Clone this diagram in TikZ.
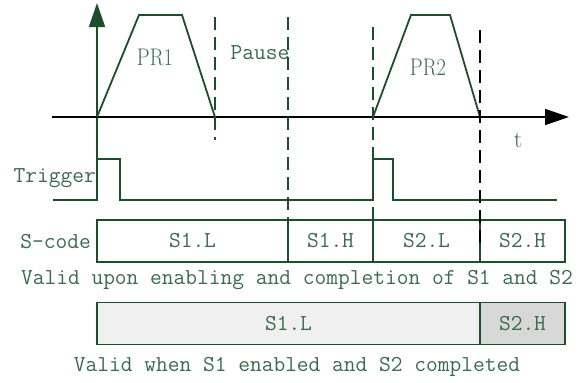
\documentclass[tikz,border=0pt]{standalone}
\usepackage{fontspec}
\usepackage{tikz}
\usetikzlibrary{arrows.meta,positioning}

\definecolor{wire}{RGB}{30,77,43}
\definecolor{lbl}{RGB}{59,107,79}
\definecolor{lightfill}{RGB}{240,240,240}
\definecolor{darkfill}{RGB}{216,216,216}

\begin{document}
\begin{tikzpicture}[
    x=1pt, y=-1pt,
    axis/.style={line width=1.6pt, black},
    wave/.style={line width=1.8pt, wire, line join=miter},
    marker/.style={line width=1.8pt, wire, dash pattern=on 13pt off 7pt},
    cell/.style={draw=wire, line width=1.8pt, minimum height=42pt, inner sep=0pt, outer sep=0pt,
      text=lbl, font=\fontsize{22.8}{24}\ttfamily},
    mono/.style={text=lbl, inner sep=0pt, font=\fontsize{22.8}{24}\ttfamily},
    serif/.style={text=lbl, inner sep=0pt, font=\fontsize{24}{26}\rmfamily},
  ]
    \useasboundingbox (0,0) rectangle (582,383);

    % time axes
    \coordinate (o) at (97,117);
    \coordinate (ytop) at (97,3);
    \coordinate (ybot) at (97,200);
    \coordinate (xl) at (52,117);
    \coordinate (xr) at (569,117);
    \draw[wave] (ybot) -- (o);
    \draw[wave, line width=1.6pt, -{Triangle[length=24pt,width=16pt]}] (o) -- (ytop);
    \draw[axis, -{Triangle[length=24pt,width=16pt]}] (xl) -- (xr);
    \node[serif] (t) at (518,140) {t};

    % PR1 and PR2 profiles
    \draw[wave] (o) -- (139,15) -- (182,15) -- (215,117);
    \node[serif, xscale=0.85, transform shape] (pr1) at (155,57) {PR1};
    \draw[wave] (373,117) -- (411,15) -- (450,15) -- (480,117);
    \node[serif, xscale=0.85, transform shape] (pr2) at (428,67) {PR2};
    \node[mono] (pause) at (260,53) {Pause};

    % markers
    \draw[marker] (215,17) -- (215,140);
    \draw[marker] (288,17) -- (288,220);
    \draw[marker] (373,27) -- (373,220);

    % trigger signal
    \node[mono, anchor=east] (trig) at (96,178) {Trigger};
    \draw[wave] (53,200) -- (97,200) -- (97,159) -- (120,159) -- (120,200)
      -- (373,200) -- (373,159) -- (393,159) -- (393,200) -- (557,200);

    % S-code row
    \node[mono, anchor=east] (scode) at (91,242) {S-code};
    \node[cell, minimum width=191pt] (s1l) at (192.5,241) {S1.L};
    \node[cell, minimum width=85pt] (s1h) at (330.5,241) {S1.H};
    \node[cell, minimum width=107pt] (s2l) at (426.5,241) {S2.L};
    \node[cell, minimum width=85pt] (s2h) at (522.5,241) {S2.H};
    \node[mono] (valid1) at (297,280) {Valid upon enabling and completion of S1 and S2};

    % second row
    \node[cell, fill=lightfill, minimum width=383pt] (r1) at (288.5,323.5) {S1.L};
    \node[cell, fill=darkfill, minimum width=85pt] (r2) at (522.5,323.5) {S2.H};
    \node[mono] (valid2) at (297,367) {Valid when S1 enabled and S2 completed};

    \draw[line width=1.8pt, black, dash pattern=on 13pt off 7pt] (480,30) -- (480,250);
  \end{tikzpicture}
\end{document}
